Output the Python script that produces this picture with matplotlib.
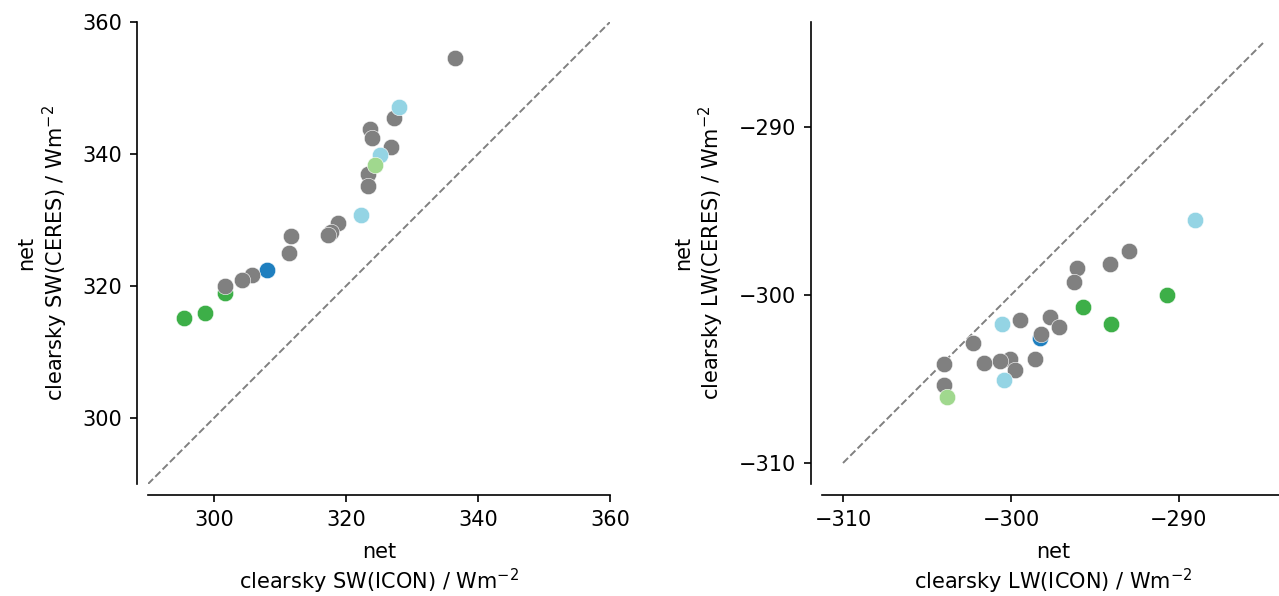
import matplotlib
matplotlib.use("Agg")
import matplotlib.pyplot as plt
from matplotlib.ticker import MultipleLocator

plt.rcParams['font.size'] = 15
plt.rcParams['axes.linewidth'] = 1.2
plt.rcParams['axes.labelpad'] = 9
plt.rcParams['xtick.major.size'] = 5.25
plt.rcParams['ytick.major.size'] = 5.25
plt.rcParams['xtick.major.width'] = 1.2
plt.rcParams['ytick.major.width'] = 1.2
plt.rcParams['xtick.major.pad'] = 5.25
plt.rcParams['ytick.major.pad'] = 5.25

# colour per group, drawn in this order
group_colors = {
    'green': '#3daf48',
    'blue': '#1f7fbf',
    'gray': '#808080',
    'cyan': '#94d4e4',
    'lightgreen': '#a0d88e',
}

# clearsky SW, (ICON, CERES)
sw_icon = {
    'green': [301.7, 298.7, 295.5],
    'blue': [308.0],
    'gray': [336.5, 327.2, 323.6, 323.9, 326.8, 323.3, 323.4, 318.8, 317.8,
             317.2, 311.7, 311.3, 305.8, 304.3, 301.7],
    'cyan': [328.1, 325.1, 322.2],
    'lightgreen': [324.4],
}
sw_ceres = {
    'green': [319.0, 315.9, 315.2],
    'blue': [322.4],
    'gray': [354.5, 345.4, 343.8, 342.4, 341.1, 336.9, 335.2, 329.5, 328.2,
             327.8, 327.5, 325.0, 321.7, 320.9, 320.0],
    'cyan': [347.1, 339.8, 330.8],
    'lightgreen': [338.3],
}

# clearsky LW, (ICON, CERES)
lw_icon = {
    'green': [-290.7, -295.7, -294.05],
    'blue': [-298.27],
    'gray': [-292.99, -294.08, -296.07, -296.23, -297.70, -297.16, -299.48, -298.19,
             -302.24, -298.55, -300.06, -300.67, -301.63, -299.78, -303.99, -304.01],
    'cyan': [-289.05, -300.51, -300.39],
    'lightgreen': [-303.79],
}
lw_ceres = {
    'green': [-299.98, -300.71, -301.71],
    'blue': [-302.58],
    'gray': [-297.38, -298.17, -298.39, -299.23, -301.29, -301.9, -301.49, -302.30,
             -302.88, -303.79, -303.83, -303.95, -304.07, -304.46, -304.09, -305.38],
    'cyan': [-295.55, -301.71, -305.04],
    'lightgreen': [-306.07],
}

fig = plt.figure(figsize=(12.79, 5.96), dpi=100)
ax1 = fig.add_axes([148 / 1279, 112 / 596, 462 / 1279, 462 / 596])
ax2 = fig.add_axes([822 / 1279, 112 / 596, 462 / 1279, 462 / 596])


def panel(ax, xs, ys, lo, hi, lims, step, name):
    ax.plot([lo, hi], [lo, hi], ls='--', color='gray', lw=1.4, zorder=1)
    for g, c in group_colors.items():
        ax.scatter(xs[g], ys[g], s=140, color=c, edgecolor='white', linewidth=0.4, zorder=2)
    ax.set_xlim(lims)
    ax.set_ylim(lims)
    ax.xaxis.set_major_locator(MultipleLocator(step))
    ax.yaxis.set_major_locator(MultipleLocator(step))
    ax.spines['top'].set_visible(False)
    ax.spines['right'].set_visible(False)
    ax.spines['left'].set_position(('outward', 8))
    ax.spines['bottom'].set_position(('outward', 8))
    ax.set_xlabel('net\nclearsky ' + name + '(ICON) / Wm$^{-2}$')
    ax.set_ylabel('net\nclearsky ' + name + '(CERES) / Wm$^{-2}$')


panel(ax1, sw_icon, sw_ceres, 290, 360, (290, 360), 20, 'SW')
panel(ax2, lw_icon, lw_ceres, -310, -285, (-311.25, -283.75), 10, 'LW')

fig.savefig('out.png', dpi=100)
